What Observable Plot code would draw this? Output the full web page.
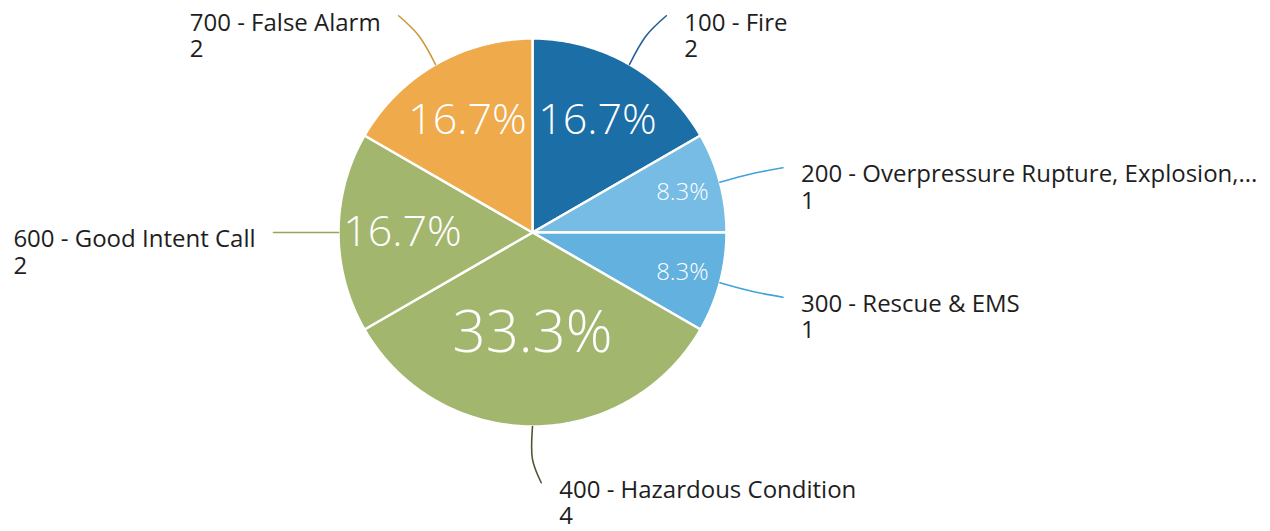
<!DOCTYPE html>
<html><head><meta charset="utf-8">
<script src="https://cdn.jsdelivr.net/npm/d3@7"></script>
<script src="https://cdn.jsdelivr.net/npm/@observablehq/plot@0.6"></script>
<style>body{margin:0;background:#fff}</style>
</head><body><div id="chart"></div>
<script>
// ---- data ----
const categories = ["100 - Fire", "200 - Overpressure Rupture, Explosion,...", "300 - Rescue & EMS", "400 - Hazardous Condition", "600 - Good Intent Call", "700 - False Alarm"];
const counts = [2, 1, 1, 4, 2, 2];

// ---- styles ----
const sliceColors = ["#1b6ea6", "#76bce4", "#62b1df", "#a3b66e", "#a3b66e", "#eeaa4b"];
const lineColors  = ["#245f98", "#3fa3da", "#3fa3da", "#4f5836", "#93a85e", "#cf973a"];

const W = 1270, H = 531, R = 194, cx = 532, cy = 232;
const labelFont = 24, gap = 18;

const total = d3.sum(counts);
const pie = d3.pie().sort(null).value(d => d)(counts);

// slice polygons
const slicePts = [];
pie.forEach((p, i) => {
  const cat = categories[i];
  slicePts.push({cat, x: 0, y: 0});
  const n = Math.max(2, Math.ceil((p.endAngle - p.startAngle) / (Math.PI / 180)));
  for (let k = 0; k <= n; k++) {
    const a = p.startAngle + (p.endAngle - p.startAngle) * k / n;
    slicePts.push({cat, x: Math.sin(a), y: -Math.cos(a)});
  }
  slicePts.push({cat, x: 0, y: 0});
});

// percentage labels
const pctSize = d3.scaleLinear().domain([1/12, 1/6, 1/3]).range([24, 43, 58]);
const pctRad = d3.scaleLinear().domain([1/12, 1/6, 1/3]).range([0.8, 0.67, 0.52]);
const pctLabels = pie.map((p, i) => {
  const share = counts[i] / total;
  const a = (p.startAngle + p.endAngle) / 2;
  const r = pctRad(share);
  return {x: Math.sin(a) * r, y: -Math.cos(a) * r, text: (share * 100).toFixed(1) + "%", size: pctSize(share)};
});

// leader lines and labels
const ctx = document.createElement("canvas").getContext("2d");
ctx.font = `${labelFont}px "Open Sans"`;
const leaderPts = [];
const outLabels = [];
pie.forEach((p, i) => {
  const cat = categories[i];
  const a = (p.startAngle + p.endAngle) / 2;
  const s = Math.sin(a), c = -Math.cos(a);
  const side = s < -1e-6 ? -1 : 1;
  const y1 = c * 1.29;
  const x2 = s * 1.29 + side * 0.045;
  leaderPts.push({cat, x: s, y: c, i}, {cat, x: s * 1.17, y: c * 1.17, i}, {cat, x: x2, y: y1, i});
  const w = ctx.measureText(cat).width;
  const lx = x2 + (side > 0 ? gap : -gap - w) / R;
  outLabels.push({x: lx, y: y1 - 4 / R, text: cat + "\n" + counts[i]});
});

const chart = Plot.plot({
  width: W, height: H, margin: 0,
  x: {domain: [-cx / R, (W - cx) / R], range: [0, W], axis: null},
  y: {domain: [-cy / R, (H - cy) / R], range: [0, H], axis: null},
  color: {domain: categories, range: sliceColors},
  style: {fontFamily: "'Open Sans', sans-serif", background: "#fff"},
  marks: [
    Plot.line(slicePts, {x: "x", y: "y", z: "cat", fill: "cat", stroke: "white", strokeWidth: 2.5, strokeLinejoin: "round", curve: "linear"}),
    Plot.line(leaderPts, {x: "x", y: "y", z: "cat", stroke: d => lineColors[d.i], strokeWidth: 1.6, curve: "catmull-rom"}),
    Plot.text(pctLabels, {x: "x", y: "y", text: "text", fontSize: "size", fill: "white", fontWeight: 300, textAnchor: "middle", lineAnchor: "middle"}),
    Plot.text(outLabels, {x: "x", y: "y", text: "text", fontSize: labelFont, fill: "#1e1e1e", textAnchor: "start", lineAnchor: "top", lineHeight: 1.1})
  ]
});
document.getElementById("chart").appendChild(chart);
</script>
</body></html>
